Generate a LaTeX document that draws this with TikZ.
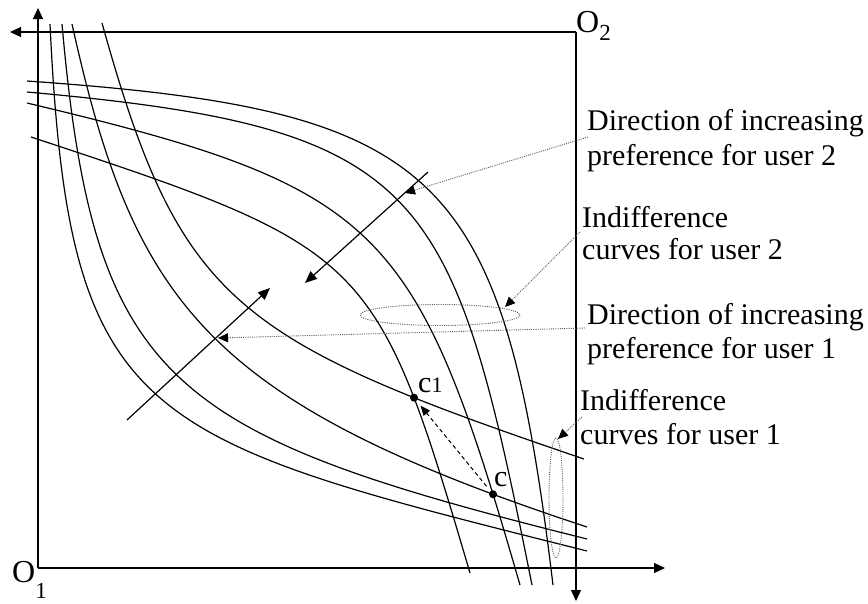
\documentclass[tikz,border=0pt]{standalone}
\usepackage{fontspec}
\setmainfont{Liberation Serif}
\usetikzlibrary{arrows.meta,intersections}
\begin{document}
\begin{tikzpicture}[x=1pt,y=-1pt,
  axis/.style={line width=1.2pt,-{Triangle[length=11pt,width=10pt]}},
  crv/.style={line width=1.2pt},
  dirarrow/.style={line width=1.2pt,-{Triangle[length=12pt,width=10pt]}},
  note/.style={line width=0.9pt,black!65,dash pattern=on 1pt off 1.2pt,-{Triangle[length=10pt,width=9pt,color=black]}},
  noteell/.style={line width=0.9pt,black!65,dash pattern=on 1pt off 1.2pt},
  lbl/.style={font=\fontsize{30}{34}\selectfont,inner sep=0pt,anchor=base west},
  dot/.style={circle,fill=black,inner sep=0pt,minimum size=8pt}]
\useasboundingbox (0,0) rectangle (868,603);
% axes
\coordinate (O1) at (38,568);
\coordinate (O2) at (576,32);
\coordinate (xend) at (665,568);
\coordinate (yend) at (38,8);
\coordinate (xtwoend) at (10,32);
\coordinate (ytwoend) at (576,601);
\draw[axis] (O1) -- (xend);
\draw[axis] (O1) -- (yend);
\draw[axis] (O2) -- (xtwoend);
\draw[axis] (O2) -- (ytwoend);
\node[inner sep=0pt,anchor=base west,font=\fontsize{32}{32}\selectfont] (lO2) at (576,32) {O\raisebox{-8pt}{\fontsize{23}{23}\selectfont 2}};
\node[inner sep=0pt,anchor=base west,font=\fontsize{32}{32}\selectfont] (lO1) at (12,582) {O\raisebox{-16pt}{\fontsize{23}{23}\selectfont 1}};
% user 1 indifference curves
\draw[crv] (50,24) .. controls (69,424) and (137,438) .. (587,551);
\draw[crv] (62,24) .. controls (94,384) and (167,434) .. (587,539);
\draw[crv,name path=uC] (72,24) .. controls (134,304) and (207,402) .. (587,527);
\draw[crv,name path=uD] (102,23) .. controls (180,303) and (234,340) .. (584,459);
% user 2 indifference curves
\draw[crv] (27,81) .. controls (442,110) and (503,170) .. (553,585);
\draw[crv] (27,92) .. controls (427,128) and (452,185) .. (532,585);
\draw[crv,name path=vG] (27,103) .. controls (384,188) and (416,225) .. (520,585);
\draw[crv,name path=vH] (31,137) .. controls (370,249) and (376,254) .. (470,573);
\path[name intersections={of=uC and vG,sort by=uC,by={pca,pc}}];
\path[name intersections={of=uD and vH,sort by=uD,by={pconea,pcone}}];
% direction arrows
\coordinate (dtwos) at (428,172);
\coordinate (dtwoe) at (305,283);
\draw[dirarrow] (dtwos) -- (dtwoe);
\coordinate (dones) at (127,420);
\coordinate (donee) at (270,288);
\draw[dirarrow] (dones) -- (donee);
% points
\node[dot] (c1) at (pcone) {};
\node[dot] (c) at (pc) {};
\node[lbl] (lc1) at ([xshift=4pt,yshift=5pt]c1.center) {c{\fontsize{22}{22}\selectfont 1}};
\node[lbl] (lc) at ([xshift=1pt,yshift=8pt]c.center) {c};
\draw[line width=1pt,dash pattern=on 4pt off 3pt,-{Triangle[length=10pt,width=8pt]},shorten <=6pt,shorten >=6pt] (c) -- (c1);
% ellipses
\draw[noteell] (440,315) ellipse [x radius=80, y radius=10.5];
\draw[noteell] (556,498) ellipse [x radius=7, y radius=60];
% labels
\node[lbl] (ta1) at (587,130) {Direction of increasing};
\node[lbl] (ta2) at (587,165) {preference for user 2};
\node[lbl] (tb1) at (582,227) {Indifference};
\node[lbl] (tb2) at (582,259) {curves for user 2};
\node[lbl] (tc1) at (587,324) {Direction of increasing};
\node[lbl] (tc2) at (587,358) {preference for user 1};
\node[lbl] (td1) at (580,410) {Indifference};
\node[lbl] (td2) at (580,444) {curves for user 1};
% annotation leaders
\coordinate (na) at (588,137);
\coordinate (nat) at (405,193);
\draw[note] (na) -- (nat);
\coordinate (nb) at (580,232);
\coordinate (nbt) at (505,307);
\draw[note] (nb) -- (nbt);
\coordinate (nc) at (585,328);
\coordinate (nct) at (218,338);
\draw[note] (nc) -- (nct);
\coordinate (nd) at (582,417);
\coordinate (ndt) at (558,439);
\draw[note] (nd) -- (ndt);
\end{tikzpicture}
\end{document}
